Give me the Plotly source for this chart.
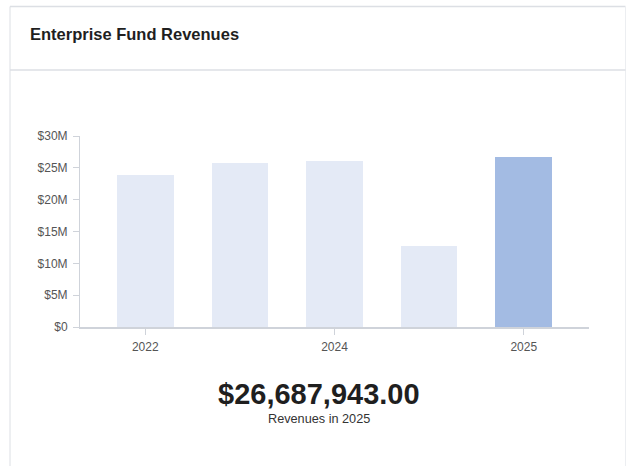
import plotly.graph_objects as go

# Revenue per period (USD)
revenues = [23_870_000, 25_750_000, 26_060_000, 12_790_000, 26_687_943.00]
tick_labels = ["2022", "", "2024", "", "2025"]
y_tick_vals = [0, 5e6, 10e6, 15e6, 20e6, 25e6, 30e6]
y_tick_text = ["$0", "$5M", "$10M", "$15M", "$20M", "$25M", "$30M"]
highlight_label = "2025"

W, H = 626, 466
L, R, T, B = 80, 37, 136, 139
plot_w, plot_h = W - L - R, H - T - B

positions = list(range(len(revenues)))
base_color = "#e4eaf6"
hi_color = "#a3bbe3"
colors = [base_color] * (len(revenues) - 1) + [hi_color]

fig = go.Figure(
    go.Bar(
        x=positions,
        y=revenues,
        width=0.6,
        marker=dict(color=colors, line=dict(width=0)),
        hoverinfo="skip",
    )
)


def px_x(p):
    return (p - L) / plot_w


def px_y(p):
    return (H - B - p) / plot_h


border = "#dcdfe4"
shapes = [
    # card outline
    dict(type="line", xref="paper", yref="paper",
         x0=px_x(10), x1=px_x(10), y0=px_y(6.5), y1=px_y(470),
         line=dict(color=border, width=1)),
    dict(type="line", xref="paper", yref="paper",
         x0=px_x(10), x1=px_x(625.5), y0=px_y(6.5), y1=px_y(6.5),
         line=dict(color=border, width=1.5)),
    dict(type="line", xref="paper", yref="paper",
         x0=px_x(625.5), x1=px_x(625.5), y0=px_y(6.5), y1=px_y(470),
         line=dict(color="#eceef1", width=1)),
    # header divider
    dict(type="line", xref="paper", yref="paper",
         x0=px_x(10), x1=px_x(625.5), y0=px_y(70), y1=px_y(70),
         line=dict(color=border, width=1.5)),
]

font_family = "Liberation Sans, Arial, sans-serif"
annotations = [
    dict(text="<b>Enterprise Fund Revenues</b>", xref="paper", yref="paper",
         x=px_x(28), y=px_y(34), xanchor="left", yanchor="middle",
         showarrow=False, font=dict(size=16.5, color="#1f1f1f", family=font_family)),
    dict(text="<b>${:,.2f}</b>".format(revenues[-1]),
         xref="paper", yref="paper",
         x=px_x(319), y=px_y(394), xanchor="center", yanchor="middle",
         showarrow=False, font=dict(size=29, color="#1f1f1f", family=font_family)),
    dict(text=f"Revenues in {highlight_label}", xref="paper", yref="paper",
         x=px_x(319), y=px_y(419), xanchor="center", yanchor="middle",
         showarrow=False, font=dict(size=12.7, color="#333333", family=font_family)),
]

axis_color = "#cfd3da"
fig.update_layout(
    width=W, height=H,
    margin=dict(l=L, r=R, t=T, b=B),
    paper_bgcolor="white", plot_bgcolor="white",
    showlegend=False,
    bargap=0,
    font=dict(family=font_family, size=12, color="#555555"),
    shapes=shapes,
    annotations=annotations,
    xaxis=dict(
        range=[-0.69, len(revenues) - 1 + 0.69],
        tickvals=[i for i, t in enumerate(tick_labels) if t],
        ticktext=[t for t in tick_labels if t],
        showgrid=False, zeroline=False,
        showline=True, linecolor=axis_color, linewidth=2,
        ticks="outside", ticklen=6, tickcolor=axis_color, tickwidth=1,
        ticklabelstandoff=2,
        tickfont=dict(size=12, color="#555555"),
        fixedrange=True,
    ),
    yaxis=dict(
        range=[0, 30e6],
        tickvals=y_tick_vals, ticktext=y_tick_text,
        showgrid=False, zeroline=False,
        showline=True, linecolor=axis_color, linewidth=1,
        ticks="outside", ticklen=6, tickcolor=axis_color, tickwidth=1,
        ticklabelstandoff=3,
        tickfont=dict(size=12, color="#555555"),
        fixedrange=True,
    ),
)

fig.write_html("out.html", config={"displayModeBar": False})
